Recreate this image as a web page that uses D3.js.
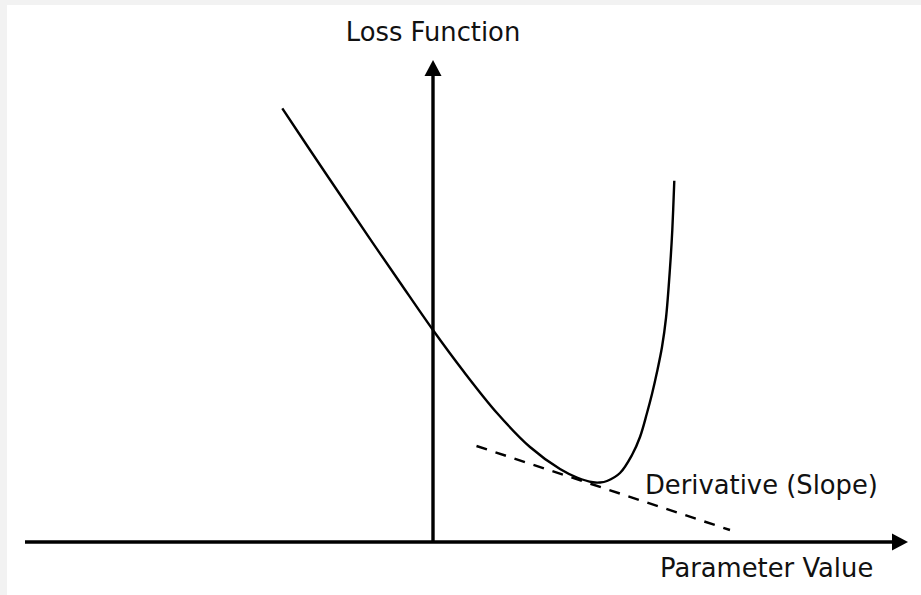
<!DOCTYPE html>
<html>
<head>
<meta charset="utf-8">
<script src="https://cdn.jsdelivr.net/npm/d3@7"></script>
<style>
  html, body { margin: 0; padding: 0; background: #f2f2f2; }
  svg { display: block; }
  text { font-family: "DejaVu Sans", Verdana, sans-serif; fill: #111; }
</style>
</head>
<body>
<svg></svg>
<script>
// loss curve (parameter value, loss)
const curveX = [-3.014, -2.46, -1.86, -1.26, -0.66, 0.006, 0.606, 1.28, 1.94, 2.54, 2.88, 3.20, 3.34, 3.48, 3.74, 3.98, 4.14, 4.28, 4.38, 4.48, 4.58, 4.66, 4.74, 4.786, 4.826];
const curveY = [8.674, 7.84, 6.95, 6.064, 5.19, 4.23, 3.42, 2.58, 1.90, 1.46, 1.29, 1.194, 1.19, 1.22, 1.38, 1.74, 2.10, 2.58, 2.96, 3.40, 3.90, 4.48, 5.48, 6.24, 7.226];

// tangent (derivative) line end points
const tangentX = [0.87, 5.94];
const tangentY = [1.92, 0.24];

const xDomain = [-8.16, 9.5];
const yDomain = [0, 9.64];

const yLabel = "Loss Function";
const xLabel = "Parameter Value";
const slopeLabel = "Derivative (Slope)";

const W = 921, H = 595;
const svg = d3.select("svg").attr("width", W).attr("height", H);

svg.append("rect")
  .attr("x", 7).attr("y", 5)
  .attr("width", W - 7).attr("height", H - 5)
  .attr("fill", "#fff");

const x = d3.scaleLinear().domain(xDomain).range([25, 908]);
const y = d3.scaleLinear().domain(yDomain).range([542, 60]);

const axisColor = "#000";
const head = 16, half = 8.5;

// x axis with arrow
svg.append("line")
  .attr("x1", x(xDomain[0])).attr("x2", x(xDomain[1]) - head + 1)
  .attr("y1", y(0)).attr("y2", y(0))
  .attr("stroke", axisColor).attr("stroke-width", 3.4);
svg.append("path")
  .attr("d", `M${x(xDomain[1])},${y(0)} L${x(xDomain[1]) - head},${y(0) - half} L${x(xDomain[1]) - head},${y(0) + half} Z`)
  .attr("fill", axisColor);

// y axis with arrow
svg.append("line")
  .attr("x1", x(0)).attr("x2", x(0))
  .attr("y1", y(0)).attr("y2", y(yDomain[1]) + head - 1)
  .attr("stroke", axisColor).attr("stroke-width", 3.4);
svg.append("path")
  .attr("d", `M${x(0)},${y(yDomain[1])} L${x(0) - half},${y(yDomain[1]) + head} L${x(0) + half},${y(yDomain[1]) + head} Z`)
  .attr("fill", axisColor);

// loss curve
const pts = curveX.map((v, i) => [v, curveY[i]]);
const line = d3.line()
  .x(d => x(d[0]))
  .y(d => y(d[1]))
  .curve(d3.curveCatmullRom.alpha(0.5));

svg.append("path")
  .datum(pts)
  .attr("d", line)
  .attr("fill", "none")
  .attr("stroke", "#000")
  .attr("stroke-width", 2.4);

// tangent
svg.append("path")
  .datum(tangentX.map((v, i) => [v, tangentY[i]]))
  .attr("d", d3.line().x(d => x(d[0])).y(d => y(d[1])))
  .attr("fill", "none")
  .attr("stroke", "#000")
  .attr("stroke-width", 2.4)
  .attr("stroke-dasharray", "11,9");

// labels
svg.append("text")
  .attr("x", x(0)).attr("y", 41)
  .attr("text-anchor", "middle")
  .style("font-size", "25.8px")
  .text(yLabel);

svg.append("text")
  .attr("x", 660).attr("y", 577)
  .style("font-size", "25.8px")
  .text(xLabel);

svg.append("text")
  .attr("x", 645).attr("y", 494)
  .style("font-size", "25.8px")
  .text(slopeLabel);
</script>
</body>
</html>
